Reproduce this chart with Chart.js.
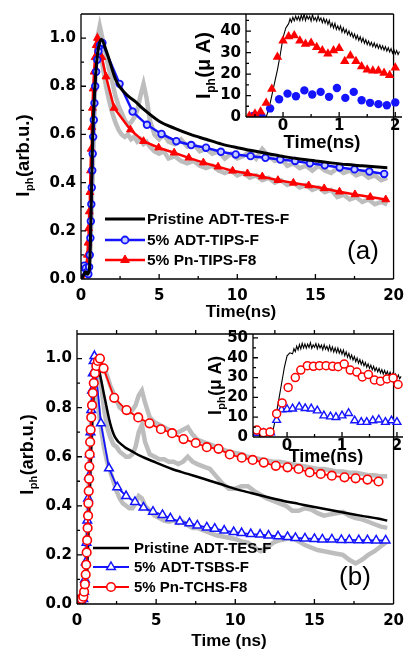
<!DOCTYPE html>
<html>
<head>
<meta charset="utf-8">
<script src="https://cdn.jsdelivr.net/npm/chart.js@4.4.1/dist/chart.umd.min.js"></script>
<style>
  body { margin: 0; background: #fff; }
  #wrap { position: relative; width: 412px; height: 649px; overflow: hidden; }
  canvas { position: absolute; }
</style>
</head>
<body>
<div id="wrap">
  <canvas id="mainA" width="412" height="322" style="left:0;top:0"></canvas>
  <canvas id="insetA" width="232" height="152" style="left:180px;top:0"></canvas>
  <canvas id="mainB" width="412" height="329" style="left:0;top:320px"></canvas>
  <canvas id="insetB" width="227" height="145" style="left:185px;top:320px"></canvas>
</div>
<script>
// ---- tick labels ----
var mainTicksX = [0, 5, 10, 15, 20];
var mainMinorX = [2.5, 7.5, 12.5, 17.5];
var mainTicksY = [0, 0.2, 0.4, 0.6, 0.8, 1.0];
var mainMinorY = [0.1, 0.3, 0.5, 0.7, 0.9];
var insetTicksX = [0, 1, 2];
var insetMinorX = [-0.5, 0.5, 1.5];
var insetATicksY = [0, 10, 20, 30, 40];
var insetBTicksY = [0, 10, 20, 30, 40, 50];
var insetMinorY = [5, 15, 25, 35, 45];

// ---- panel (a), main ----
var aBlackT = [0,0.2,0.3,0.4,0.5,0.55,0.6,0.65,0.7,0.75,0.85,0.95,1.05,1.15,1.3,1.6,1.9,2.2,2.5,3.0,3.5,4,5,6,7,8,9,10,11,12,13,14,15,16,17,18,19,19.6];
var aBlackV = [0,0.02,0.03,0.02,0.03,0.05,0.15,0.3,0.45,0.6,0.75,0.86,0.93,0.97,0.995,0.95,0.89,0.83,0.795,0.76,0.735,0.705,0.655,0.625,0.6,0.58,0.56,0.545,0.532,0.52,0.508,0.498,0.49,0.482,0.475,0.47,0.465,0.462];

var aBlueT = [0,0.1,0.2,0.3,0.4,0.47,0.52,0.56,0.6,0.63,0.66,0.69,0.72,0.75,0.78,0.82,0.86,0.91,0.97,1.04,1.12,1.22,1.37,2.47,3.3,4.22,5.15,6.1,7.05,8.0,8.95,9.9,10.85,11.8,12.75,13.7,14.65,15.6,16.55,17.5,18.45,19.4];
var aBlueV = [0.03,0.05,0.055,0.045,0.03,0.02,0.05,0.1,0.17,0.24,0.31,0.38,0.45,0.52,0.59,0.66,0.73,0.8,0.86,0.91,0.945,0.97,0.98,0.81,0.695,0.64,0.602,0.572,0.556,0.545,0.528,0.517,0.51,0.503,0.496,0.49,0.48,0.472,0.463,0.455,0.446,0.436];

var aRedT = [0,0.1,0.2,0.3,0.36,0.41,0.45,0.49,0.53,0.57,0.61,0.65,0.69,0.73,0.78,0.84,0.9,0.97,1.05,1.33,1.6,2.12,3.16,4.0,4.97,5.96,6.9,7.83,8.77,9.7,10.65,11.6,12.6,13.59,14.57,15.56,16.54,17.53,18.51,19.5];
var aRedV = [0.01,0.02,0.03,0.04,0.06,0.1,0.15,0.21,0.28,0.36,0.45,0.54,0.63,0.71,0.79,0.86,0.92,0.97,1.0,0.92,0.84,0.71,0.62,0.572,0.545,0.524,0.503,0.483,0.466,0.449,0.438,0.425,0.41,0.399,0.388,0.376,0.362,0.351,0.34,0.33];

var aGrayT = [0.45,0.6,0.75,0.9,1.05,1.2,1.4,1.6,1.8,2.0,2.2,2.4,2.6,2.8,3.0,3.2,3.4,3.6,3.8,4.0,4.2,4.4,4.7,5.0,5.3,5.6,6.0,6.4,6.8,7.2,7.6,8.0,8.4,8.8,9.2,9.6,10.0,10.4,10.8,11.2,11.6,12.0,12.4,12.8,13.2,13.6,14.0,14.4,14.8,15.2,15.6,16.0,16.4,16.8,17.2,17.6,18.0,18.4,18.8,19.2,19.6];
var aGray1V = [0.03,0.12,0.45,0.8,1.0,1.05,0.99,0.93,0.87,0.82,0.76,0.72,0.69,0.66,0.64,0.65,0.67,0.7,0.76,0.81,0.75,0.66,0.6,0.58,0.6,0.57,0.56,0.58,0.55,0.56,0.53,0.54,0.52,0.53,0.5,0.52,0.5,0.51,0.53,0.5,0.54,0.51,0.49,0.5,0.47,0.48,0.46,0.47,0.45,0.47,0.45,0.44,0.46,0.44,0.45,0.43,0.44,0.42,0.43,0.41,0.42];
var aGray2V = [0.03,0.15,0.5,0.85,0.98,0.95,0.88,0.8,0.74,0.69,0.65,0.62,0.6,0.59,0.6,0.58,0.59,0.57,0.58,0.56,0.57,0.55,0.53,0.52,0.53,0.5,0.51,0.49,0.48,0.49,0.47,0.46,0.47,0.45,0.44,0.45,0.43,0.44,0.42,0.43,0.41,0.42,0.4,0.41,0.39,0.4,0.38,0.39,0.37,0.38,0.36,0.37,0.34,0.35,0.33,0.34,0.32,0.33,0.31,0.32,0.31];

// ---- panel (b), main ----
var bBlackT = [0,0.3,0.5,0.6,0.7,0.8,0.9,1.0,1.1,1.2,1.35,1.5,1.75,2.1,2.4,3.0,3.45,4,5,6,7,8,9,10,11,12,13,14,15,16,17,18,19,19.6];
var bBlackV = [0,0.01,0.02,0.08,0.25,0.45,0.65,0.8,0.89,0.94,0.96,0.92,0.84,0.735,0.68,0.64,0.623,0.603,0.576,0.55,0.53,0.51,0.49,0.469,0.452,0.436,0.421,0.408,0.395,0.383,0.371,0.359,0.348,0.34];

var bBlueT = [0.2,0.3,0.4,0.45,0.5,0.55,0.6,0.65,0.7,0.75,0.8,0.85,0.9,0.95,1.0,1.05,1.1,1.51,2.02,2.54,3.1,3.66,4.2,4.8,5.4,5.9,6.5,7.1,7.6,8.2,8.7,9.3,9.9,10.4,10.98,11.57,12.1,12.7,13.3,13.8,14.4,15.0,15.5,16.1,16.7,17.2,17.8,18.35,18.9,19.5];
var bBlueV = [0.0,0.01,0.02,0.05,0.1,0.17,0.25,0.34,0.43,0.52,0.61,0.7,0.79,0.87,0.94,0.99,1.01,0.736,0.553,0.476,0.44,0.416,0.393,0.376,0.363,0.349,0.336,0.329,0.32,0.312,0.307,0.299,0.293,0.289,0.285,0.283,0.279,0.276,0.273,0.269,0.267,0.265,0.263,0.263,0.261,0.261,0.26,0.26,0.259,0.259];

var bRedT = [0.2,0.3,0.4,0.45,0.5,0.55,0.58,0.61,0.64,0.67,0.7,0.72,0.74,0.76,0.78,0.8,0.83,0.86,0.9,0.95,1.0,1.06,1.13,1.22,1.32,1.45,1.68,2.35,3.13,3.87,4.58,5.3,6.01,6.73,7.5,8.2,8.94,9.65,10.41,11.1,11.8,12.56,13.3,14.0,14.7,15.4,16.1,16.9,17.6,18.35,19.05];
var bRedV = [0.02,0.02,0.03,0.05,0.08,0.12,0.16,0.21,0.26,0.31,0.36,0.41,0.46,0.51,0.56,0.61,0.66,0.71,0.76,0.81,0.86,0.9,0.94,0.97,0.99,1.0,0.96,0.84,0.79,0.76,0.736,0.712,0.696,0.672,0.656,0.639,0.632,0.609,0.596,0.587,0.576,0.563,0.557,0.55,0.536,0.53,0.523,0.516,0.512,0.507,0.499];

var bGrayT = [0.4,0.55,0.7,0.85,1.0,1.15,1.3,1.5,1.7,1.9,2.1,2.3,2.5,2.7,2.9,3.1,3.3,3.5,3.7,3.9,4.1,4.3,4.6,4.9,5.2,5.5,5.8,6.1,6.4,6.7,7.0,7.3,7.6,8.0,8.4,8.8,9.2,9.6,10.0,10.4,10.8,11.2,11.6,12.0,12.4,12.8,13.2,13.6,14.0,14.4,14.8,15.2,15.6,16.0,16.4,16.8,17.2,17.6,18.0,18.4,18.8,19.2,19.6];
var bGray1V = [0.02,0.08,0.3,0.6,0.82,0.93,0.97,0.98,0.97,0.93,0.89,0.86,0.83,0.8,0.79,0.78,0.78,0.79,0.81,0.85,0.87,0.82,0.76,0.74,0.73,0.72,0.71,0.7,0.7,0.71,0.72,0.69,0.67,0.66,0.65,0.64,0.63,0.62,0.615,0.61,0.6,0.595,0.59,0.585,0.58,0.58,0.575,0.57,0.565,0.56,0.555,0.55,0.55,0.545,0.54,0.54,0.535,0.535,0.53,0.525,0.525,0.52,0.52];
var bGray2V = [0.02,0.1,0.35,0.65,0.85,0.94,0.95,0.9,0.8,0.72,0.68,0.65,0.64,0.62,0.61,0.6,0.6,0.61,0.64,0.7,0.73,0.66,0.61,0.6,0.59,0.59,0.58,0.58,0.57,0.58,0.6,0.58,0.57,0.56,0.55,0.52,0.49,0.47,0.47,0.48,0.48,0.46,0.445,0.43,0.42,0.41,0.4,0.38,0.38,0.39,0.385,0.37,0.36,0.365,0.37,0.375,0.36,0.35,0.345,0.335,0.325,0.315,0.31];
var bGray3V = [0.02,0.12,0.4,0.7,0.88,0.9,0.82,0.72,0.64,0.58,0.54,0.5,0.46,0.43,0.41,0.4,0.39,0.39,0.41,0.44,0.43,0.4,0.38,0.36,0.35,0.34,0.335,0.34,0.33,0.335,0.32,0.31,0.31,0.3,0.29,0.28,0.275,0.27,0.265,0.255,0.25,0.23,0.215,0.23,0.25,0.26,0.265,0.27,0.255,0.24,0.23,0.22,0.215,0.21,0.205,0.2,0.18,0.165,0.18,0.2,0.215,0.235,0.255];

// ---- insets (uA vs ns) ----
var noiseT = [0.1,0.125,0.15,0.175,0.2,0.225,0.25,0.275,0.3,0.325,0.35,0.375,0.4,0.425,0.45,0.475,0.5,0.525,0.55,0.575,0.6,0.625,0.65,0.675,0.7,0.725,0.75,0.775,0.8,0.825,0.85,0.875,0.9,0.925,0.95,0.975,1,1.025,1.05,1.075,1.1,1.125,1.15,1.175,1.2,1.225,1.25,1.275,1.3,1.325,1.35,1.375,1.4,1.425,1.45,1.475,1.5,1.525,1.55,1.575,1.6,1.625,1.65,1.675,1.7,1.725,1.75,1.775,1.8,1.825,1.85,1.875,1.9,1.925,1.95,1.975,2,2.025,2.05,2.075];

var iaRiseT = [-0.66,-0.3,-0.25,-0.2,-0.15,-0.1,-0.05,0,0.05];
var iaRiseV = [0,0,4,10,16,22,29,37,41.5];
var iaNoiseV = [43.5,45.8,44.2,46.5,44.8,47.0,45.2,46.8,44.9,47.5,
  45.3,48.0,45.0,47.2,45.6,46.9,44.7,47.8,45.1,46.3,
  44.6,47.1,44.9,46.2,44.0,46.0,43.8,45.5,43.2,45.1,
  42.0,43.8,41.5,43.6,40.8,42.5,40.6,42.4,39.6,41.5,
  39.2,40.8,38.4,40.1,37.8,39.3,37.0,38.7,36.3,38.1,
  35.7,37.4,35.0,36.8,34.4,36.0,33.8,35.4,33.3,34.8,
  32.8,34.5,32.4,34.0,32.0,33.6,31.6,33.2,31.2,32.8,
  30.7,32.3,30.3,31.9,29.8,31.4,29.4,31.0,29.1,30.5];
var iaRedT = [-0.6,-0.5,-0.4,-0.3,-0.2,-0.1,0,0.1,0.2,0.3,0.4,0.5,0.6,0.7,0.8,0.9,1.0,1.1,1.2,1.3,1.4,1.5,1.6,1.7,1.8,1.9,2.0];
var iaRedV = [0.5,1.5,2.5,6.5,13,28,35.5,37.5,38,35.5,34,34.5,32.5,31,29.5,31,32,26,28.5,26,23.5,22,21.5,21.5,20.5,19.5,23];
var iaBlueT = [-0.53,-0.38,-0.23,-0.07,0.08,0.23,0.38,0.52,0.67,0.82,0.96,1.11,1.26,1.4,1.55,1.7,1.85,2.0];
var iaBlueV = [0.5,0.1,4,8.3,10.9,9.7,12.4,10.5,11.7,9.4,13.5,8.9,11.7,7.8,6.6,6,5.5,6.8];

var ibRiseT = [-0.62,-0.55,-0.5,-0.45,-0.4,-0.35,-0.3,-0.25,-0.2,-0.15,-0.1,-0.05,0,0.05];
var ibRiseV = [2.5,3,2,3,2.5,3,3.5,4,11,19,27,35,41,42.5];
var ibNoiseV = [42.0,44.6,43.1,45.9,44.0,46.7,44.5,47.3,45.0,47.0,
  44.8,46.9,45.2,47.6,44.7,46.5,45.3,47.2,44.6,46.8,
  44.9,46.4,44.1,46.6,44.3,45.8,43.6,46.1,43.4,45.5,
  42.9,45.0,42.6,44.9,42.3,44.2,41.8,43.9,41.1,43.0,
  40.3,42.2,39.5,41.4,38.9,40.6,38.0,39.9,37.3,39.1,
  36.6,38.5,35.9,37.6,35.2,36.9,34.6,36.3,33.9,35.7,
  33.4,35.0,32.9,34.6,32.3,34.0,31.8,33.6,31.5,33.1,
  30.9,32.7,30.6,32.2,30.0,31.8,29.7,31.3,29.4,30.6];
var ibRedT = [-0.55,-0.43,-0.31,-0.19,-0.09,0.02,0.15,0.25,0.37,0.48,0.59,0.71,0.83,0.93,1.04,1.15,1.27,1.37,1.48,1.59,1.7,1.82,1.93,2.02];
var ibRedV = [3.5,2.2,2.5,11.8,17.2,25,30,33.8,36,35.7,36,36,35.7,35.5,36.8,33.8,32.8,30.3,31.5,28.8,28.2,29.3,29.8,26.5];
var ibBlueT = [-0.55,-0.43,-0.3,-0.19,-0.1,0,0.1,0.22,0.33,0.44,0.55,0.67,0.79,0.89,1.0,1.12,1.23,1.35,1.45,1.56,1.67,1.79,1.9,2.0];
var ibBlueV = [2,2,2.2,8.5,13.8,14,14.3,15.2,14.5,14.3,13.3,10.8,10.3,10,10.8,12,8.3,7.5,7.5,8.3,8.7,7.5,8.3,7.5];

// ---------------------------------------------------------------
Chart.defaults.font.family = '"Liberation Sans", Arial, sans-serif';
Chart.defaults.color = '#000';
var tickFont = { family: '"DejaVu Sans", sans-serif', size: 15, weight: 'bold' };
var BLUE = '#1414ff', RED = '#ff0000', GRAY = '#bdbdbd';

function pts(xs, ys) {
  return xs.map(function(x, i) { return { x: x, y: ys[i] }; });
}

function marker(ctx, m, x, y) {
  ctx.save();
  ctx.fillStyle = m.fill;
  ctx.strokeStyle = m.stroke;
  ctx.lineWidth = m.bw;
  ctx.beginPath();
  if (m.style === 'triangle') {
    var r = m.r;
    ctx.moveTo(x, y - r);
    ctx.lineTo(x + r * 0.866, y + r * 0.5);
    ctx.lineTo(x - r * 0.866, y + r * 0.5);
    ctx.closePath();
  } else {
    ctx.arc(x, y, m.r, 0, Math.PI * 2);
  }
  ctx.fill();
  if (m.bw > 0) ctx.stroke();
  ctx.restore();
}

// rotated axis title: I with subscript "ph", then the rest
function yTitle(ctx, cx, cy, size, rest) {
  var big = 'bold ' + size + 'px "Liberation Sans", Arial';
  var small = 'bold ' + Math.round(size * 0.62) + 'px "Liberation Sans", Arial';
  ctx.save();
  ctx.translate(cx, cy);
  ctx.rotate(-Math.PI / 2);
  ctx.fillStyle = '#000';
  ctx.textAlign = 'left';
  ctx.textBaseline = 'alphabetic';
  ctx.font = big; var w1 = ctx.measureText('I').width; var w3 = ctx.measureText(rest).width;
  ctx.font = small; var w2 = ctx.measureText('ph').width;
  var x = -(w1 + w2 + w3) / 2, base = size * 0.36;
  ctx.font = big; ctx.fillText('I', x, base);
  ctx.font = small; ctx.fillText('ph', x + w1 + 0.5, base + size * 0.22);
  ctx.font = big; ctx.fillText(rest, x + w1 + w2 + 1, base);
  ctx.restore();
}

function deco(d) {
  return {
    id: 'deco',
    afterDraw: function(chart) {
      var ctx = chart.ctx, a = chart.chartArea, sx = chart.scales.x, sy = chart.scales.y;
      ctx.save();
      ctx.strokeStyle = '#000';
      ctx.lineWidth = 1.3;
      ctx.beginPath();
      d.sides.forEach(function(s) {
        if (s === 'left') { ctx.moveTo(a.left, a.top); ctx.lineTo(a.left, a.bottom); }
        if (s === 'right') { ctx.moveTo(a.right, a.top); ctx.lineTo(a.right, a.bottom); }
        if (s === 'top') { ctx.moveTo(a.left, a.top); ctx.lineTo(a.right, a.top); }
        if (s === 'bottom') { ctx.moveTo(a.left, a.bottom); ctx.lineTo(a.right, a.bottom); }
      });
      function xt(vals, len) {
        vals.forEach(function(v) { var p = sx.getPixelForValue(v); ctx.moveTo(p, a.bottom); ctx.lineTo(p, a.bottom - len); });
      }
      function yt(vals, len) {
        vals.forEach(function(v) { var p = sy.getPixelForValue(v); ctx.moveTo(a.left, p); ctx.lineTo(a.left + len, p); });
      }
      xt(d.xMajor, 5); xt(d.xMinor, 3);
      yt(d.yMajor, 5); yt(d.yMinor, 3);
      if (d.topTicks) {
        d.xMajor.concat(d.xMinor).forEach(function(v) {
          var p = sx.getPixelForValue(v); ctx.moveTo(p, a.top); ctx.lineTo(p, a.top - 4);
        });
      }
      ctx.stroke();

      ctx.fillStyle = '#000';
      (d.texts || []).forEach(function(t) {
        ctx.font = t.font;
        ctx.textAlign = 'center';
        ctx.textBaseline = 'middle';
        ctx.fillText(t.text, t.x, t.y);
      });
      if (d.yTitle) yTitle(ctx, d.yTitle.x, d.yTitle.y, d.yTitle.size, d.yTitle.rest);

      if (d.legend) {
        var L = d.legend;
        L.rows.forEach(function(r) {
          ctx.strokeStyle = r.color;
          ctx.lineWidth = r.lw;
          ctx.beginPath();
          ctx.moveTo(L.x0, r.y); ctx.lineTo(L.x1, r.y);
          ctx.stroke();
          if (r.marker) marker(ctx, r.marker, (L.x0 + L.x1) / 2, r.y);
          ctx.fillStyle = '#000';
          ctx.font = L.font;
          ctx.textAlign = 'left';
          ctx.textBaseline = 'middle';
          ctx.fillText(r.text, L.tx, r.y + 1);
        });
      }
      ctx.restore();
    }
  };
}

function makeChart(id, box, ax, datasets, d) {
  return new Chart(document.getElementById(id), {
    type: 'line',
    data: { datasets: datasets },
    options: {
      responsive: false,
      animation: false,
      devicePixelRatio: 1,
      layout: { padding: { top: box.top, right: box.right, left: 0, bottom: 0 } },
      plugins: { legend: { display: false }, tooltip: { enabled: false } },
      elements: { line: { tension: 0 } },
      scales: {
        x: {
          type: 'linear', min: ax.xMin, max: ax.xMax,
          grid: { display: false, drawTicks: false },
          border: { display: false },
          ticks: { font: tickFont, color: '#000', padding: ax.xPad, autoSkip: false, maxRotation: 0,
                   callback: function(v) { return String(v); } },
          afterBuildTicks: function(s) { s.ticks = ax.xTicks.map(function(v) { return { value: v }; }); },
          afterFit: function(s) { s.height = box.xh; }
        },
        y: {
          type: 'linear', min: ax.yMin, max: ax.yMax,
          grid: { display: false, drawTicks: false },
          border: { display: false },
          ticks: { font: tickFont, color: '#000', padding: 5, autoSkip: false,
                   callback: ax.yFmt },
          afterBuildTicks: function(s) { s.ticks = ax.yTicks.map(function(v) { return { value: v }; }); },
          afterFit: function(s) { s.width = box.left; }
        }
      }
    },
    plugins: [deco(d)]
  });
}

var fmt1 = function(v) { return v.toFixed(1); };
var fmt0 = function(v) { return String(v); };
var titleFont = 'bold 17px "Liberation Sans", Arial';

// ---- (a) main ----
makeChart('mainA',
  { left: 81, right: 10, top: 12, xh: 43 },
  { xMin: 0, xMax: 20, yMin: 0, yMax: 1.1, xTicks: mainTicksX, yTicks: mainTicksY, xPad: 8, yFmt: fmt1 },
  [
    { data: pts(aGrayT, aGray1V), borderColor: GRAY, borderWidth: 4.5, pointRadius: 0, order: 10 },
    { data: pts(aGrayT, aGray2V), borderColor: GRAY, borderWidth: 4.5, pointRadius: 0, order: 10 },
    { data: pts(aRedT, aRedV), borderColor: RED, borderWidth: 2.5, pointStyle: 'triangle', pointRadius: 4.5,
      pointBackgroundColor: RED, pointBorderColor: RED, pointBorderWidth: 1, order: 3 },
    { data: pts(aBlueT, aBlueV), borderColor: BLUE, borderWidth: 2.5, pointStyle: 'circle', pointRadius: 3.3,
      pointBackgroundColor: '#c6cfff', pointBorderColor: BLUE, pointBorderWidth: 1.8, order: 2 },
    { data: pts(aBlackT, aBlackV), borderColor: '#000', borderWidth: 3, pointRadius: 0,
      cubicInterpolationMode: 'monotone', order: 1 }
  ],
  {
    sides: ['left', 'bottom', 'top', 'right'],
    xMajor: mainTicksX, xMinor: mainMinorX, yMajor: mainTicksY, yMinor: mainMinorY,
    texts: [
      { text: 'Time(ns)', x: 241, y: 312, font: titleFont },
      { text: '(a)', x: 363, y: 252, font: '26px "Liberation Sans", Arial' }
    ],
    yTitle: { x: 22, y: 156, size: 18.5, rest: '(arb.u.)' },
    legend: {
      x0: 105, x1: 145, tx: 147, font: 'bold 15.5px "Liberation Sans", Arial',
      rows: [
        { y: 219, color: '#000', lw: 3, text: 'Pristine ADT-TES-F' },
        { y: 240, color: BLUE, lw: 2.5, text: '5% ADT-TIPS-F',
          marker: { style: 'circle', r: 3.5, fill: '#c6cfff', stroke: BLUE, bw: 1.8 } },
        { y: 260, color: RED, lw: 2.5, text: '5% Pn-TIPS-F8',
          marker: { style: 'triangle', r: 5, fill: RED, stroke: RED, bw: 1 } }
      ]
    }
  });

// ---- (a) inset ----
makeChart('insetA',
  { left: 66, right: 10, top: 13, xh: 35 },
  { xMin: -0.66, xMax: 2.12, yMin: 0, yMax: 48, xTicks: insetTicksX, yTicks: insetATicksY, xPad: 0, yFmt: fmt0 },
  [
    { data: pts(iaRiseT.concat(noiseT), iaRiseV.concat(iaNoiseV)), borderColor: '#000', borderWidth: 1.1, pointRadius: 0, order: 3 },
    { data: pts(iaRedT, iaRedV), showLine: false, pointStyle: 'triangle', pointRadius: 5.5,
      pointBackgroundColor: RED, pointBorderColor: RED, pointBorderWidth: 0, order: 1 },
    { data: pts(iaBlueT, iaBlueV), showLine: false, pointStyle: 'circle', pointRadius: 4.2,
      pointBackgroundColor: BLUE, pointBorderColor: BLUE, pointBorderWidth: 0, order: 2 }
  ],
  {
    sides: ['left', 'bottom'],
    xMajor: insetTicksX, xMinor: insetMinorX, yMajor: insetATicksY, yMinor: insetMinorY,
    texts: [ { text: 'Time(ns)', x: 142, y: 143, font: 'bold 18.5px "Liberation Sans", Arial' } ],
    yTitle: { x: 23, y: 66, size: 20, rest: '(\u03bc A)' }
  });

// ---- (b) main ----
makeChart('mainB',
  { left: 77, right: 9, top: 9, xh: 45 },
  { xMin: 0, xMax: 20, yMin: 0, yMax: 1.1, xTicks: mainTicksX, yTicks: mainTicksY, xPad: 8, yFmt: fmt1 },
  [
    { data: pts(bGrayT, bGray1V), borderColor: GRAY, borderWidth: 4.5, pointRadius: 0, order: 10 },
    { data: pts(bGrayT, bGray2V), borderColor: GRAY, borderWidth: 4.5, pointRadius: 0, order: 10 },
    { data: pts(bGrayT, bGray3V), borderColor: GRAY, borderWidth: 4.5, pointRadius: 0, order: 10 },
    { data: pts(bBlackT, bBlackV), borderColor: '#000', borderWidth: 2.5, pointRadius: 0,
      cubicInterpolationMode: 'monotone', order: 3 },
    { data: pts(bBlueT, bBlueV), borderColor: BLUE, borderWidth: 1.8, pointStyle: 'triangle', pointRadius: 5,
      pointBackgroundColor: '#fff', pointBorderColor: BLUE, pointBorderWidth: 1.5, order: 2 },
    { data: pts(bRedT, bRedV), borderColor: RED, borderWidth: 1.8, pointStyle: 'circle', pointRadius: 4.3,
      pointBackgroundColor: '#fff', pointBorderColor: RED, pointBorderWidth: 1.6, order: 1 }
  ],
  {
    sides: ['left', 'bottom', 'top', 'right'], topTicks: true,
    xMajor: mainTicksX, xMinor: mainMinorX, yMajor: mainTicksY, yMinor: mainMinorY,
    texts: [
      { text: 'Time (ns)', x: 229, y: 321, font: titleFont },
      { text: '(b)', x: 355, y: 258, font: '26px "Liberation Sans", Arial' }
    ],
    yTitle: { x: 27, y: 135, size: 18, rest: '(arb.u.)' },
    legend: {
      x0: 93, x1: 129, tx: 134, font: 'bold 15px "Liberation Sans", Arial',
      rows: [
        { y: 228, color: '#000', lw: 2.5, text: 'Pristine ADT-TES-F' },
        { y: 247, color: BLUE, lw: 1.8, text: '5% ADT-TSBS-F',
          marker: { style: 'triangle', r: 5, fill: '#fff', stroke: BLUE, bw: 1.5 } },
        { y: 267, color: RED, lw: 1.8, text: '5% Pn-TCHS-F8',
          marker: { style: 'circle', r: 4.3, fill: '#fff', stroke: RED, bw: 1.6 } }
      ]
    }
  });

// ---- (b) inset ----
makeChart('insetB',
  { left: 68, right: 9, top: 13, xh: 28 },
  { xMin: -0.62, xMax: 2.11, yMin: 0, yMax: 52, xTicks: insetTicksX, yTicks: insetBTicksY, xPad: 0, yFmt: fmt0 },
  [
    { data: pts(ibRiseT.concat(noiseT), ibRiseV.concat(ibNoiseV)), borderColor: '#000', borderWidth: 1.1, pointRadius: 0, order: 3 },
    { data: pts(ibRedT, ibRedV), showLine: false, pointStyle: 'circle', pointRadius: 4,
      pointBackgroundColor: '#fff', pointBorderColor: RED, pointBorderWidth: 1.5, order: 1 },
    { data: pts(ibBlueT, ibBlueV), showLine: false, pointStyle: 'triangle', pointRadius: 4.5,
      pointBackgroundColor: '#fff', pointBorderColor: BLUE, pointBorderWidth: 1.4, order: 2 }
  ],
  {
    sides: ['left', 'bottom'],
    xMajor: insetTicksX, xMinor: insetMinorX, yMajor: insetBTicksY, yMinor: insetMinorY,
    texts: [ { text: 'Time(ns)', x: 141, y: 137, font: 'bold 18px "Liberation Sans", Arial' } ],
    yTitle: { x: 30, y: 66, size: 17.5, rest: '(\u03bc A)' }
  });
</script>
</body>
</html>
